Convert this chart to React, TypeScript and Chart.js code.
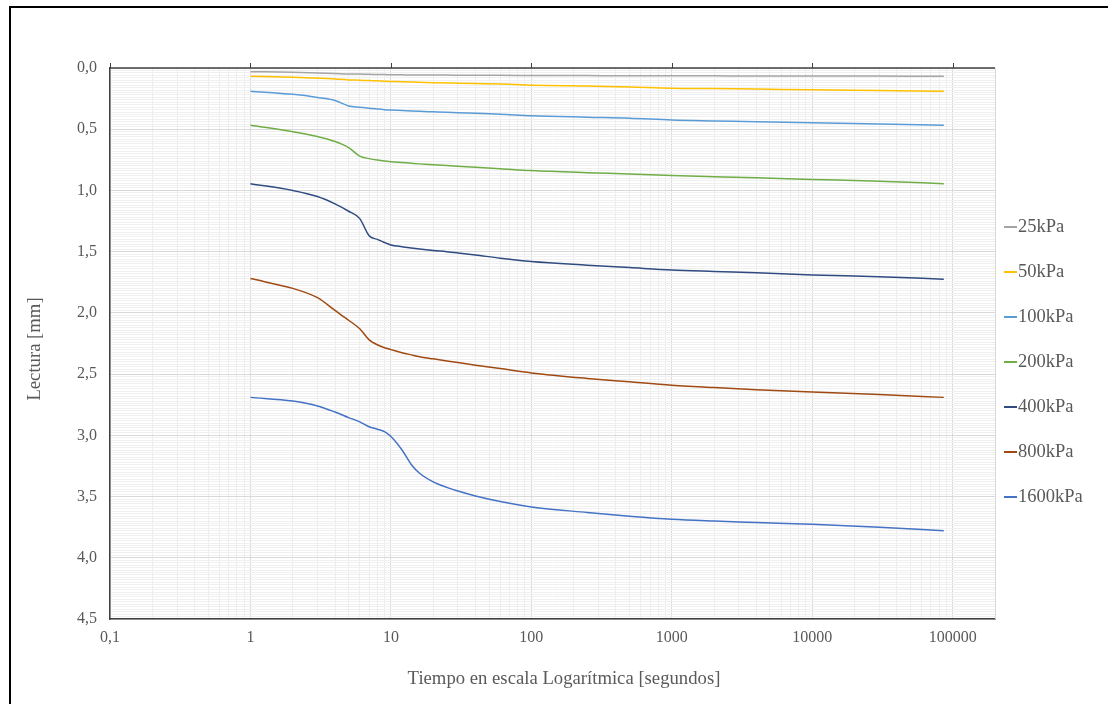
import React, { useEffect, useRef } from "react";
import { Chart, registerables } from "chart.js";

Chart.register(...registerables);

// Times (seconds)
const times = [1, 2, 3, 4, 5, 6, 7, 8, 9, 10, 12, 14, 16, 20, 25, 30, 40, 60, 100, 250, 500, 1000, 2000, 4000, 10000, 30000, 86400];

const s25 = [0.03, 0.035, 0.04, 0.045, 0.05, 0.05, 0.052, 0.053, 0.054, 0.055, 0.056, 0.057, 0.057, 0.058, 0.058, 0.059, 0.06, 0.06, 0.061, 0.062, 0.063, 0.063, 0.064, 0.065, 0.065, 0.066, 0.067];
const s50 = [0.068, 0.075, 0.082, 0.09, 0.097, 0.1, 0.103, 0.105, 0.108, 0.11, 0.112, 0.114, 0.116, 0.12, 0.122, 0.124, 0.127, 0.131, 0.14, 0.148, 0.155, 0.165, 0.168, 0.172, 0.178, 0.184, 0.19];
const s100 = [0.19, 0.215, 0.24, 0.265, 0.31, 0.32, 0.328, 0.335, 0.34, 0.343, 0.347, 0.351, 0.354, 0.358, 0.362, 0.365, 0.37, 0.377, 0.39, 0.402, 0.41, 0.425, 0.432, 0.438, 0.448, 0.458, 0.468];
const s200 = [0.468, 0.52, 0.56, 0.6, 0.65, 0.72, 0.74, 0.752, 0.76, 0.765, 0.772, 0.778, 0.783, 0.79, 0.797, 0.802, 0.81, 0.822, 0.838, 0.855, 0.865, 0.878, 0.888, 0.897, 0.91, 0.925, 0.945];
const s400 = [0.945, 1.0, 1.05, 1.11, 1.17, 1.23, 1.37, 1.4, 1.425, 1.445, 1.46, 1.47, 1.478, 1.49, 1.5, 1.51, 1.527, 1.553, 1.58, 1.61, 1.63, 1.65, 1.662, 1.673, 1.69, 1.705, 1.725];
const s800 = [1.72, 1.8, 1.876, 1.98, 2.06, 2.13, 2.22, 2.26, 2.285, 2.3, 2.325, 2.343, 2.358, 2.375, 2.392, 2.405, 2.427, 2.455, 2.49, 2.535, 2.563, 2.59, 2.61, 2.627, 2.647, 2.667, 2.69];
const s1600 = [2.69, 2.72, 2.76, 2.81, 2.855, 2.89, 2.93, 2.95, 2.97, 3.01, 3.12, 3.24, 3.31, 3.38, 3.425, 3.455, 3.495, 3.54, 3.585, 3.63, 3.66, 3.685, 3.7, 3.712, 3.727, 3.75, 3.78];

const seriesLabels = ["25kPa", "50kPa", "100kPa", "200kPa", "400kPa", "800kPa", "1600kPa"];
const seriesValues = [s25, s50, s100, s200, s400, s800, s1600];
const seriesColors = ["#A5A5A5", "#FFC000", "#5B9BD5", "#70AD47", "#2F4B80", "#A04A12", "#4472C4"];

const xMin = 0.1;
const xMax = 200000;
const xMajorTicks = [0.1, 1, 10, 100, 1000, 10000, 100000];
const xMajorLabels = ["0,1", "1", "10", "100", "1000", "10000", "100000"];
const yMin = 0;
const yMax = 4.5;
const yMajorStep = 0.5;
const yMinorStep = 0.02;

const xTitle = "Tiempo en escala Logarítmica [segundos]";
const yTitle = "Lectura [mm]";

const FONT = "'Liberation Serif', 'Times New Roman', serif";
const TEXT = "#595959";

function isMajorX(v: number) {
  const l = Math.log10(v);
  return Math.abs(l - Math.round(l)) < 1e-6;
}

function buildXTicks() {
  const out: number[] = [];
  for (let e = -1; e <= 5; e++) {
    for (let m = 1; m <= 9; m++) {
      const v = parseFloat((m * Math.pow(10, e)).toPrecision(6));
      if (v >= xMin && v <= xMax) out.push(v);
    }
  }
  return out;
}

function buildYTicks() {
  const out: number[] = [];
  const n = Math.round((yMax - yMin) / yMinorStep);
  for (let i = 0; i <= n; i++) out.push(Math.round((yMin + i * yMinorStep) * 1000) / 1000);
  return out;
}

function isMajorY(v: number) {
  const r = v / yMajorStep;
  return Math.abs(r - Math.round(r)) < 1e-6;
}

const framePlugin = {
  id: "framePlugin",
  afterDraw(chart: any) {
    const { ctx, chartArea } = chart;
    const { left, right, top, bottom } = chartArea;
    const xs = chart.scales.x;
    ctx.save();
    // right border light
    ctx.strokeStyle = "#d9d9d9";
    ctx.lineWidth = 1;
    ctx.beginPath();
    ctx.moveTo(right + 0.5, top);
    ctx.lineTo(right + 0.5, bottom);
    ctx.stroke();
    // top axis line dark
    ctx.strokeStyle = "#404040";
    ctx.lineWidth = 1.5;
    ctx.beginPath();
    ctx.moveTo(left, top);
    ctx.lineTo(right, top);
    ctx.stroke();
    // tick marks on top
    ctx.lineWidth = 1;
    xMajorTicks.forEach((v) => {
      const px = Math.round(xs.getPixelForValue(v)) + 0.5;
      ctx.beginPath();
      ctx.moveTo(px, top - 5);
      ctx.lineTo(px, top);
      ctx.stroke();
    });
    // axis titles
    ctx.fillStyle = TEXT;
    ctx.font = `18.7px ${FONT}`;
    ctx.textAlign = "center";
    ctx.textBaseline = "middle";
    ctx.fillText(xTitle, 564, 679);
    ctx.save();
    ctx.translate(35, 349);
    ctx.rotate(-Math.PI / 2);
    ctx.fillText(yTitle, 0, 0);
    ctx.restore();
    // legend
    ctx.font = `18.5px ${FONT}`;
    ctx.textBaseline = "middle";
    ctx.textAlign = "left";
    chart.data.datasets.forEach((ds: any, i: number) => {
      const y = 227 + i * 45;
      ctx.strokeStyle = ds.borderColor;
      ctx.lineWidth = 2;
      ctx.beginPath();
      ctx.moveTo(1004, y);
      ctx.lineTo(1017, y);
      ctx.stroke();
      ctx.fillStyle = TEXT;
      ctx.fillText(ds.label, 1018, y);
    });
    ctx.restore();
  },
};

export default function App() {
  const ref = useRef<HTMLCanvasElement | null>(null);

  useEffect(() => {
    if (!ref.current) return;
    const xTicks = buildXTicks();
    const yTicks = buildYTicks();
    const chart = new Chart(ref.current, {
      type: "line",
      data: {
        datasets: seriesLabels.map((label, i) => ({
          label,
          data: times.map((t, j) => ({ x: t, y: seriesValues[i][j] })),
          borderColor: seriesColors[i],
          backgroundColor: seriesColors[i],
          borderWidth: 1.5,
          pointRadius: 0,
          fill: false,
          cubicInterpolationMode: "monotone" as const,
        })),
      },
      options: {
        animation: false,
        responsive: false,
        maintainAspectRatio: false,
        layout: { padding: { left: 0, top: 68, right: 113, bottom: 0 } },
        plugins: { legend: { display: false }, tooltip: { enabled: false } },
        scales: {
          x: {
            type: "logarithmic",
            min: xMin,
            max: xMax,
            afterBuildTicks: (s: any) => {
              s.ticks = xTicks.map((v) => ({ value: v }));
            },
            afterFit: (s: any) => {
              s.height = 85;
            },
            ticks: {
              autoSkip: false,
              maxRotation: 0,
              padding: 9,
              color: TEXT,
              font: { family: FONT, size: 16 },
              callback: (v: any) => {
                const idx = xMajorTicks.findIndex((m) => Math.abs(m - Number(v)) / m < 1e-6);
                return idx >= 0 ? xMajorLabels[idx] : "";
              },
            },
            grid: {
              drawTicks: false,
              color: (c: any) => (c.tick && isMajorX(c.tick.value) ? "#d9d9d9" : "#ededed"),
              lineWidth: 1,
            },
            border: { display: true, color: "#404040", width: 1.5 },
            title: { display: false },
          },
          y: {
            type: "linear",
            reverse: true,
            min: yMin,
            max: yMax,
            afterBuildTicks: (s: any) => {
              s.ticks = yTicks.map((v) => ({ value: v }));
            },
            afterFit: (s: any) => {
              s.width = 110;
            },
            ticks: {
              autoSkip: false,
              padding: 13,
              color: TEXT,
              font: { family: FONT, size: 16 },
              callback: (v: any) => (isMajorY(Number(v)) ? Number(v).toFixed(1).replace(".", ",") : ""),
            },
            grid: {
              drawTicks: false,
              color: (c: any) => (c.tick && isMajorY(c.tick.value) ? "#d9d9d9" : "#f0f0f0"),
              lineWidth: 1,
            },
            border: { display: true, color: "#404040", width: 1.5 },
            title: { display: false },
          },
        },
      },
      plugins: [framePlugin],
    } as any);
    return () => chart.destroy();
  }, []);

  return (
    <div style={{ position: "absolute", left: 0, top: 0, width: 1108, height: 704, overflow: "hidden", background: "#ffffff" }}>
      <canvas ref={ref} width={1108} height={704} style={{ position: "absolute", left: 0, top: 0, width: 1108, height: 704 }} />
      <div
        style={{
          position: "absolute",
          left: 9,
          top: 6,
          width: 1300,
          height: 900,
          borderTop: "2px solid #000",
          borderLeft: "2px solid #000",
          pointerEvents: "none",
        }}
      />
    </div>
  );
}
